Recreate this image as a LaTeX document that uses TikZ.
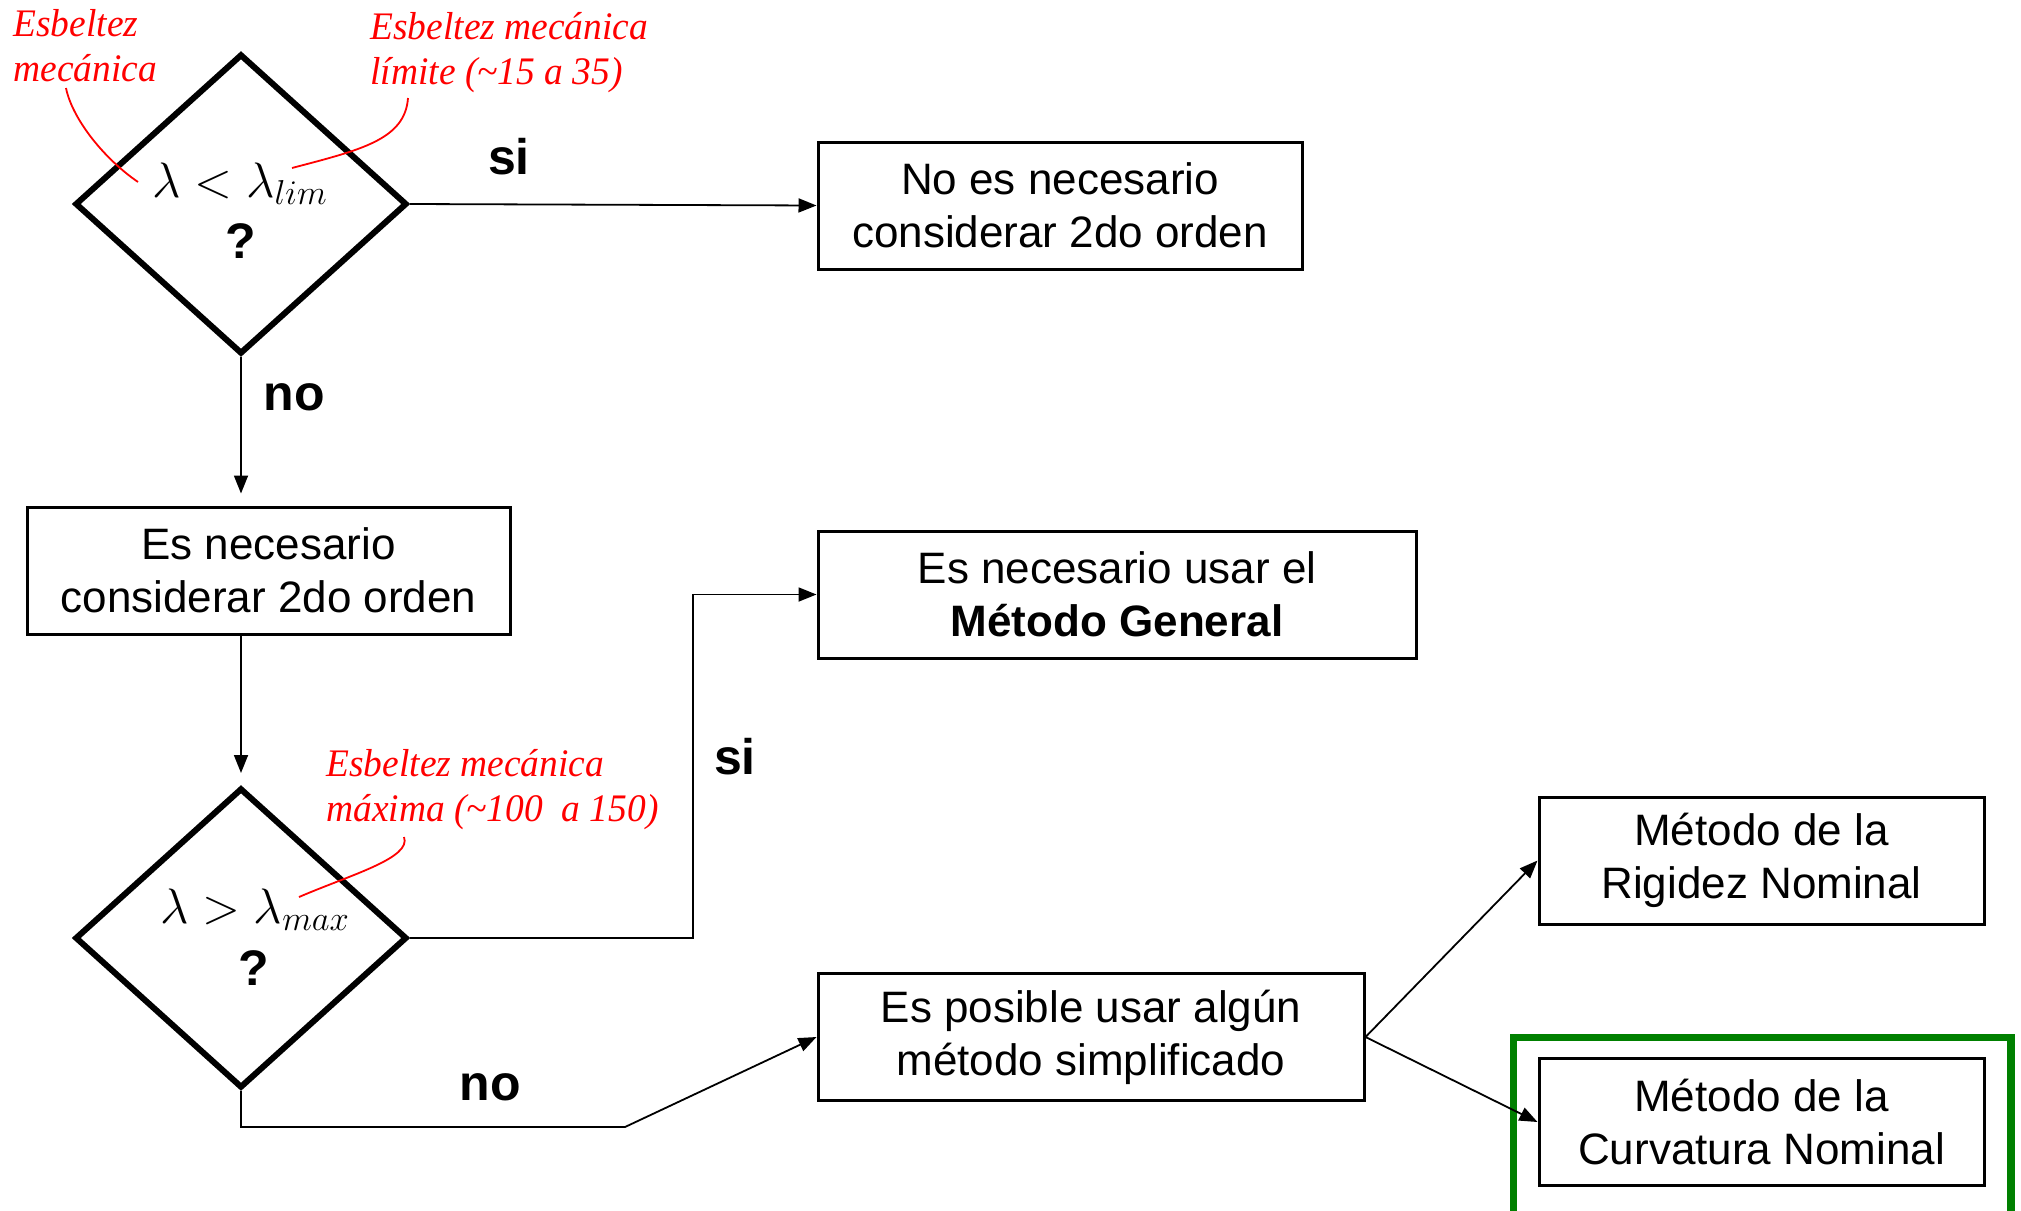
\documentclass[tikz,border=0pt]{standalone}
\usepackage{fontspec}
\setmainfont{Liberation Sans}
\newfontfamily\redfont[FakeStretch=0.96]{Liberation Serif}
\usetikzlibrary{arrows.meta,shapes.geometric}
\definecolor{frameg}{RGB}{0,128,0}
\definecolor{annred}{RGB}{255,0,0}
\begin{document}
\begin{tikzpicture}[x=0.5pt,y=-0.5pt,
  box/.style={draw, line width=1.5pt, rectangle, minimum width=#1, minimum height=63.5pt,
    inner sep=0pt, align=center, font=\fontsize{22}{26.5}\selectfont},
  dec/.style={draw, shape=diamond, line width=3pt, minimum width=166pt, minimum height=150pt, inner sep=0pt},
  conn/.style={line width=0.9pt, -{Triangle[length=9pt,width=7pt]}},
  lbl/.style={font=\fontsize{25}{30}\selectfont\bfseries, inner sep=0pt},
  qm/.style={font=\fontsize{25}{28}\selectfont\bfseries, inner sep=0pt},
  mth/.style={font=\fontsize{24}{28}\selectfont, inner sep=0pt, anchor=base},
  ann/.style={font=\fontsize{19.5}{22.5}\selectfont\redfont\itshape, text=annred, align=left, inner sep=0pt, anchor=west},
  lead/.style={draw=annred, line width=0.9pt},
  frame/.style={draw=frameg, line width=3.6pt}
]
\useasboundingbox (0,0) rectangle (2021,1210);

% decisions
\node[dec] (d1) at (241,204) {};
\node[dec] (d2) at (241,938) {};
\node[mth] (m1) at (240,197) {$\lambda<\lambda_{lim}$};
\node[qm] (q1) at (241,241) {?};
\node[mth] (m2) at (255,923) {$\lambda>\lambda_{max}$};
\node[qm] (q2) at (254,968) {?};

% boxes
\node[box=242pt] (b1) at (1060,205.5) {No es necesario\\considerar 2do orden};
\node[box=241.5pt] (b2) at (268.5,570.5) {Es necesario\\considerar 2do orden};
\node[box=299pt] (b3) at (1117,594.5) {Es necesario usar el\\\textbf{Método General}};
\node[box=273pt] (b4) at (1091,1037) {Es posible usar algún\\método simplificado};
\node[box=222.5pt] (b5) at (1761.5,860.5) {Método de la\\Rigidez Nominal};
\node[box=222.5pt] (b6) at (1761.5,1122) {Método de la\\Curvatura Nominal};

% green highlight frame
\draw[frame] (1513.5,1260) -- (1513.5,1037.5) -- (2011,1037.5) -- (2011,1260);

% labels
\node[lbl] (si1) at (509,157) {si};
\node[lbl] (no1) at (294,397) {no};
\node[lbl] (si2) at (735,757) {si};
\node[lbl] (no2) at (490,1087) {no};

% connectors
\draw[conn] (d1.east) -- (b1.west);
\draw[conn, shorten >=6pt] (d1.south) -- (d1.south |- b2.north);
\draw[conn, shorten >=6pt] (d2.north |- b2.south) -- (d2.north);
\coordinate (k2) at (693,594.5);
\draw[conn] (d2.east) -| (k2) -- (b3.west);
\coordinate (k3) at (241,1127);
\coordinate (k4) at (625,1127);
\draw[conn] (d2.south) -- (k3) -- (k4) -- (b4.west);
\draw[conn] (b4.east) -- (b5.west);
\draw[conn] (b4.east) -- (b6.west);

% annotations
\node[ann] (r1) at (13,45.5) {Esbeltez\\mecánica};
\node[ann] (r2) at (370,52.5) {Esbeltez mecánica\\límite (\textasciitilde15 a 35)};
\node[ann] (r3) at (326,789.5) {Esbeltez mecánica\\máxima (\textasciitilde100\ \ a 150)};
\coordinate (l1a) at (66,88);
\coordinate (l1b) at (138,182);
\coordinate (l2a) at (408,98);
\coordinate (l2b) at (292,168);
\coordinate (l3a) at (404,837);
\coordinate (l3b) at (299,897);
\draw[lead] (l1a) .. controls (72,118) and (103,158) .. (l1b);
\draw[lead] (l2a) .. controls (405,140) and (360,150) .. (l2b);
\draw[lead] (l3a) .. controls (412,858) and (350,875) .. (l3b);
\end{tikzpicture}
\end{document}
